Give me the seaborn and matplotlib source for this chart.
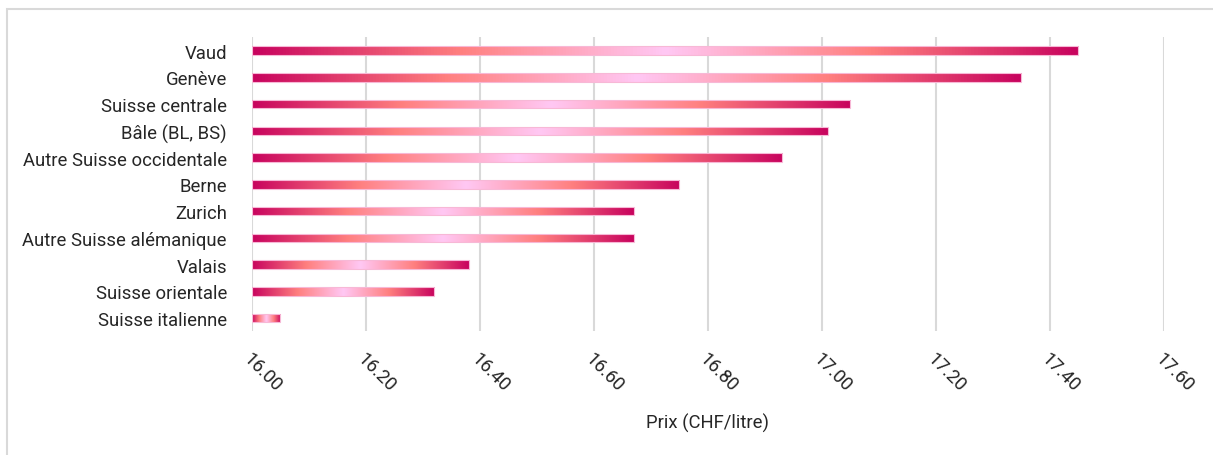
import matplotlib
matplotlib.use('Agg')
import matplotlib.pyplot as plt
import numpy as np
import pandas as pd
import seaborn as sns
from matplotlib.colors import LinearSegmentedColormap
from matplotlib.patches import Rectangle

# Data
regions = ['Vaud', 'Genève', 'Suisse centrale', 'Bâle (BL, BS)',
           'Autre Suisse occidentale', 'Berne', 'Zurich',
           'Autre Suisse alémanique', 'Valais', 'Suisse orientale',
           'Suisse italienne']
prices = [17.45, 17.35, 17.05, 17.01, 16.93, 16.75, 16.67, 16.67,
          16.38, 16.32, 16.05]
x_ticks = [16.0, 16.2, 16.4, 16.6, 16.8, 17.0, 17.2, 17.4, 17.6]
base = 16.0

df = pd.DataFrame({'region': regions, 'price': prices})
df['offset'] = df['price'] - base

sns.set_style('white')
plt.rcParams['font.family'] = ['Roboto', 'DejaVu Sans']
fs = 13.3

fig = plt.figure(figsize=(12.13, 4.56), dpi=100)
ax = fig.add_axes([0.2077, 0.271, 0.7519, 0.645])

# outer frame like the original chart area
fig.patches.append(Rectangle((0.006, -0.01), 1.0, 0.988, transform=fig.transFigure,
                             fill=False, edgecolor='#D9D9D9', linewidth=1.5))

sns.barplot(data=df, x='offset', y='region', orient='h', width=0.32,
            left=base, color='#C8045E', ax=ax)

# gradient fill inside each bar
cmap = LinearSegmentedColormap.from_list(
    'grad', ['#C8045E', '#FF7F7F', '#FFC8F4', '#FF7F7F', '#C8045E'])
grad = np.linspace(0, 1, 256).reshape(1, -1)
for p in list(ax.patches):
    p.set_facecolor('none')
    p.set_edgecolor('#F7B8D6')
    p.set_linewidth(0.8)
    p.set_zorder(3)
    x0, y0 = p.get_x(), p.get_y()
    w, h = p.get_width(), p.get_height()
    im = ax.imshow(grad, cmap=cmap, aspect='auto', extent=[x0, x0 + w, y0 + h, y0],
                   zorder=2.5, interpolation='bicubic')
    im.set_clip_path(p)

ax.set_xlim(16.0, 17.6)
ax.set_ylim(len(regions) - 0.5, -0.5)
ax.set_xticks(x_ticks)
ax.set_xticklabels([f'{t:.2f}' for t in x_ticks], rotation=-45, ha='left',
                   rotation_mode='anchor', fontsize=fs, color='#262626')
ax.tick_params(axis='x', length=0, pad=13)
ax.tick_params(axis='y', length=0, pad=18, labelsize=fs, labelcolor='#262626')
ax.grid(axis='x', color='#D9D9D9', linewidth=1.5, zorder=0)
ax.set_axisbelow(True)
for s in ax.spines.values():
    s.set_visible(False)

ax.set_ylabel('')
ax.set_xlabel('Prix (CHF/litre)', fontsize=fs, color='#262626', labelpad=13)

fig.savefig('out.png', dpi=100)
